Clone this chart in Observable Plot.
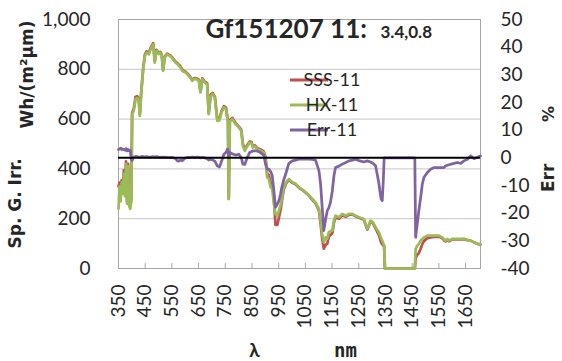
<!DOCTYPE html>
<html><head><meta charset="utf-8">
<script src="https://cdn.jsdelivr.net/npm/d3@7"></script>
<script src="https://cdn.jsdelivr.net/npm/@observablehq/plot@0.6"></script>
<style>body{margin:0;background:#fff}#chart{width:562px;height:361px}</style>
</head><body><div id="chart"></div>
<script>
const wavelength = [350,354,358,362,366,370,374,378,382,386,390,394,398,401,407,414,420,426,430,435,442,449,455,464,470,480,486,492,501,507,512,517,523,532,542,551,564,570,576,582,589,595,601,613,620,626,635,645,651,657,664,673,682,688,695,703,711,720,728,736,745,753,758,760,763,767,776,788,801,810,816,823,832,841,848,853,861,869,882,894,901,907,913,920,926,932,938,945,951,957,961,969,978,988,1001,1013,1026,1038,1051,1063,1076,1088,1101,1107,1113,1119,1126,1132,1138,1144,1151,1157,1163,1176,1188,1201,1213,1226,1238,1251,1269,1282,1294,1303,1313,1319,1325,1329,1334,1338,1342,1345,1348,1400,1460,1463,1469,1475,1482,1488,1494,1507,1519,1532,1550,1563,1569,1575,1582,1588,1600,1619,1632,1644,1657,1669,1682,1694,1706];
const hx11 = [240,330,270,345,300,380,290,420,260,410,250,240,270,620,633,680,685,673,613,701,794,854,867,860,880,900,827,874,861,867,855,794,847,860,854,845,827,822,814,808,794,790,787,774,765,754,762,758,754,707,760,747,740,620,693,700,685,593,595,627,647,640,600,593,279,590,600,580,566,553,493,473,490,506,505,486,490,480,473,466,433,366,360,326,320,259,220,210,232,255,273,326,346,359,346,340,326,318,306,295,279,265,239,192,139,105,125,120,146,150,152,192,212,206,219,212,219,219,212,206,199,159,192,186,166,156,146,135,120,112,100,92,0,0,0,79,92,99,112,118,125,132,132,132,132,125,118,112,118,112,119,119,119,119,115,112,105,99,97];
const sss11 = [330,345,290,355,310,395,300,430,270,420,260,255,280,625,640,690,692,680,618,706,800,860,872,864,885,905,832,878,865,870,858,798,850,863,857,848,830,826,818,812,798,794,790,778,768,758,765,762,758,712,764,750,744,625,698,704,690,600,602,632,652,645,605,598,280,595,605,585,570,557,500,480,495,510,509,490,494,484,478,470,445,380,375,345,340,290,175,175,205,235,262,318,342,356,344,338,324,316,304,293,276,262,232,180,120,80,95,100,128,135,142,184,205,200,214,208,216,217,210,204,196,156,189,182,161,148,135,122,104,97,92,90,0,0,0,40,55,62,80,98,110,122,125,127,128,121,114,109,115,109,117,117,117,118,114,112,105,99,97];
const err11 = [3.0,3.2,3.5,3.0,3.2,3.0,2.8,3.3,2.5,3.0,2.5,2.8,-0.5,-1.0,0.3,0.5,0.4,0.3,0.3,0.4,0.5,0.3,0.4,0.3,0.3,0.4,0.3,0.4,0.3,0.2,0.3,0.2,0.3,0.2,0.1,0.2,-0.3,-1.0,-1.2,-0.8,-1.0,-0.5,0.0,0.2,0.1,0.3,0.2,0.3,0.2,0.0,0.2,0.0,-0.3,-0.8,-0.5,-0.8,-1.2,-2.9,-3.3,-1.2,1.3,2.0,3.1,3.0,0.0,1.9,1.5,1.0,1.3,0.0,-2.3,-2.4,0.0,1.9,2.2,2.5,2.5,2.5,1.9,1.0,-2.3,-4.1,-4.1,-5.0,-6.5,-11.9,-17.9,-16.7,-15.5,-13.1,-11.0,-8.0,-5.3,-2.0,-1.1,-0.8,-0.5,-0.5,-0.5,-0.5,-0.6,-0.8,-4.7,-9.5,-17.9,-26.3,-22.1,-19.1,-18.0,-16.1,-11.9,-6.5,-3.5,-3.0,-2.3,-1.7,-1.1,-0.8,-0.5,-1.0,-1.5,-1.1,-1.5,-2.0,-2.9,-5.9,-9.0,-11.9,-14.9,-15.5,-8.0,0.0,0.0,0.0,0.0,-28.7,-23.9,-19.1,-14.3,-9.5,-7.1,-5.3,-4.1,-3.5,-3.5,-3.5,-3.5,-2.9,-2.7,-2.5,-2.2,-1.7,-2.0,-1.1,-0.5,0.7,-0.3,0.2,0.7];

const irrTicks = [0,200,400,600,800,1000];
const errTicks = [-40,-30,-20,-10,0,10,20,30,40,50];
const nmTicks = [350,450,550,650,750,850,950,1050,1150,1250,1350,1450,1550,1650];
const seriesNames = ["SSS-11","HX-11","Err-11"];
const seriesColors = ["#C0504D","#9BBB59","#8064A2"];
const titleMain = "Gf151207 11:";
const titleSub = "3.4,0.8";
const leftLabelA = "Sp. G. Irr.";
const leftLabelB = "Wh/(m²µm)";
const rightLabelA = "Err";
const rightLabelB = "%";
const xLabelA = "λ", xLabelB = "nm";

const ERR_MIN = -40, ERR_MAX = 50, IRR_MAX = 1000;
const errToIrr = e => (e - ERR_MIN) / (ERR_MAX - ERR_MIN) * IRR_MAX;
const irrToErr = v => v / IRR_MAX * (ERR_MAX - ERR_MIN) + ERR_MIN;

const rows = wavelength.map((w, i) => ({w, hx: hx11[i], sss: sss11[i], err: err11[i]}));
const font = "Lato, 'Open Sans', sans-serif";
const labelFont = "'DejaVu Sans', sans-serif";
const ink = "#262626";

const legendMark = () => {
  const g = d3.create("svg:g");
  seriesNames.forEach((name, i) => {
    const y = 80 + i * 25;
    g.append("line").attr("x1", 290).attr("x2", 328).attr("y1", y).attr("y2", y)
      .attr("stroke", seriesColors[i]).attr("stroke-width", 3);
    g.append("text").attr("x", 332).attr("y", y).attr("dy", "0.36em")
      .attr("font-size", 18).attr("fill", ink).attr("font-family", font).text(name);
  });
  return g.node();
};

const chart = Plot.plot({
  width: 562, height: 361,
  marginLeft: 118, marginRight: 82, marginTop: 19, marginBottom: 93,
  style: {fontFamily: font, fontSize: "19px", color: ink, background: "#fff", overflow: "visible"},
  x: {type: "linear", domain: [350, 1706]},
  y: {domain: [0, IRR_MAX]},
  marks: [
    Plot.gridY(irrTicks, {stroke: "#c6c6c6", strokeOpacity: 1}),
    Plot.frame({stroke: "#a6a6a6"}),
    Plot.tickX(nmTicks, {x: d => d, insetTop: 244, stroke: "#a6a6a6"}),
    Plot.axisY(irrTicks, {anchor: "left", tickSize: 0, tickPadding: 28, tickFormat: d3.format(","), label: null, fontSize: 19}),
    Plot.axisY(errTicks.map(errToIrr), {anchor: "right", tickSize: 0, tickPadding: 20, tickFormat: d => String(Math.round(irrToErr(d))), label: null, fontSize: 19}),
    Plot.axisX(nmTicks, {anchor: "bottom", tickSize: 0, tickPadding: 16, tickRotate: -90, tickFormat: d => String(d), label: null, fontSize: 19}),
    Plot.line(rows, {x: "w", y: "sss", stroke: seriesColors[0], strokeWidth: 2.75}),
    Plot.line(rows, {x: "w", y: "hx", stroke: seriesColors[1], strokeWidth: 2.75}),
    Plot.line(rows, {x: "w", y: d => errToIrr(d.err), stroke: seriesColors[2], strokeWidth: 2.75}),
    Plot.ruleY([0], {y: errToIrr, stroke: "#000", strokeWidth: 2}),
    Plot.text([titleMain], {frameAnchor: "top-left", dx: 87, dy: 18, lineAnchor: "bottom", textAnchor: "start", fontWeight: "bold", fontSize: 26, fill: ink}),
    Plot.text([titleSub], {frameAnchor: "top-left", dx: 262, dy: 18, lineAnchor: "bottom", textAnchor: "start", fontWeight: "bold", fontSize: 17, fill: ink}),
    Plot.text([leftLabelA], {frameAnchor: "bottom-left", rotate: -90, dx: -98, dy: -20, textAnchor: "start", fontWeight: "bold", fontSize: 17, fill: ink, fontFamily: labelFont}),
    Plot.text([leftLabelB], {frameAnchor: "top-left", rotate: -90, dx: -98, dy: 1, textAnchor: "end", fontWeight: "bold", fontSize: 17, fill: ink, fontFamily: labelFont}),
    Plot.text([rightLabelA], {frameAnchor: "right", rotate: -90, dx: 68, dy: 48, textAnchor: "start", fontWeight: "bold", fontSize: 17, fill: ink, fontFamily: labelFont}),
    Plot.text([rightLabelB], {frameAnchor: "right", rotate: -90, dx: 68, dy: -38, fontWeight: "bold", fontSize: 16, fill: ink, fontFamily: labelFont}),
    Plot.text([xLabelA], {frameAnchor: "bottom", dx: -45, dy: 88, lineAnchor: "bottom", fontWeight: "bold", fontSize: 19, fill: ink}),
    Plot.text([xLabelB], {frameAnchor: "bottom", dx: 46, dy: 88, lineAnchor: "bottom", fontWeight: "bold", fontSize: 19, fill: ink, fontFamily: "'DejaVu Sans Mono', monospace"}),
    legendMark
  ]
});
document.getElementById("chart").appendChild(chart);
</script>
</body></html>
